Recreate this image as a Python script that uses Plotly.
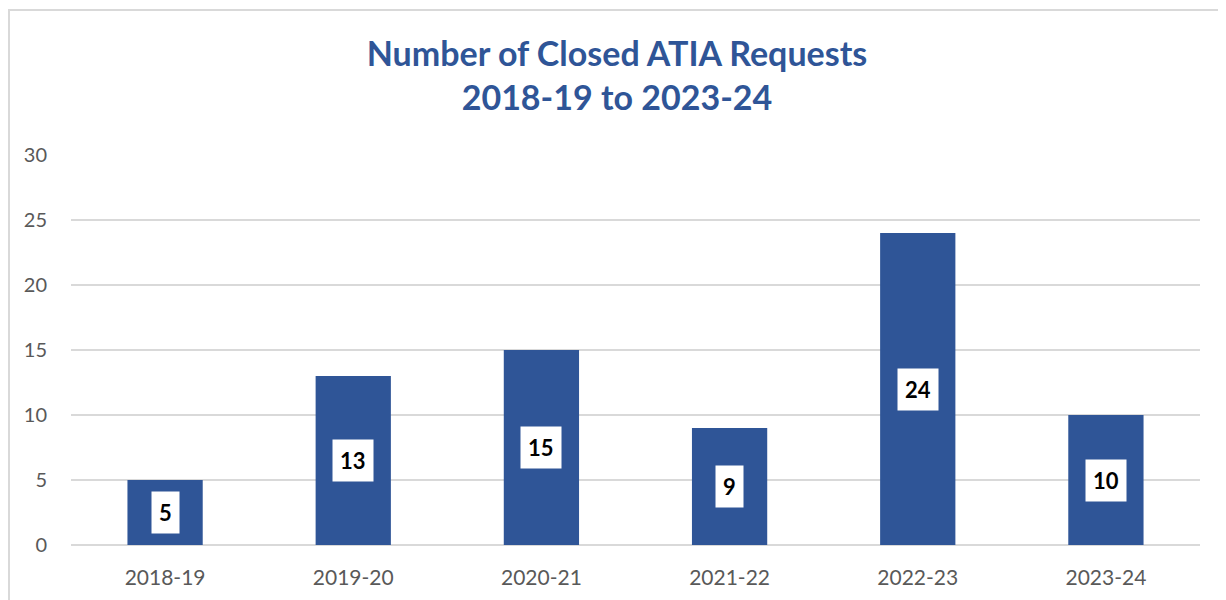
import plotly.graph_objects as go

categories = ["2018-19", "2019-20", "2020-21", "2021-22", "2022-23", "2023-24"]
closed_requests = [5, 13, 15, 9, 24, 10]
title_lines = ["Number of Closed ATIA Requests", "2018-19 to 2023-24"]
y_ticks = [0, 5, 10, 15, 20, 25, 30]

BAR_COLOR = "#2F5597"
FONT = "Lato"

fig = go.Figure()
fig.add_trace(go.Bar(
    x=categories,
    y=closed_requests,
    marker=dict(color=BAR_COLOR, line=dict(width=0)),
    hoverinfo="x+y",
))

for cat, val in zip(categories, closed_requests):
    fig.add_annotation(
        x=cat, y=val / 2, text=f"<b>{val}</b>", showarrow=False,
        font=dict(family=FONT, size=22, color="black"),
        bgcolor="white", borderpad=7,
    )

L, R, T, B = 63, 34, 147, 63
W, H = 1226, 600
pw, ph = W - L - R, H - T - B

fig.update_layout(
    width=W, height=H,
    margin=dict(l=L, r=R, t=T, b=B),
    paper_bgcolor="white", plot_bgcolor="white",
    bargap=0.6,
    showlegend=False,
    title=dict(
        text="<b>" + "<br>".join(title_lines) + "</b>",
        x=609 / W, xanchor="center", y=1 - 58 / H, yanchor="top",
        font=dict(family=FONT, size=34, color=BAR_COLOR),
    ),
    xaxis=dict(
        showgrid=False, showline=False, ticks="",
        tickfont=dict(family=FONT, size=21, color="#595959"),
        ticklabelstandoff=18,
    ),
    yaxis=dict(
        range=[0, 30], tickvals=y_ticks,
        showgrid=True, gridcolor="#D9D9D9", gridwidth=1.5,
        zeroline=True, zerolinecolor="#D9D9D9", zerolinewidth=1.5,
        showline=False, ticks="",
        tickfont=dict(family=FONT, size=20, color="#595959"),
        ticklabelstandoff=23,
    ),
    shapes=[dict(
        type="rect", xref="paper", yref="paper",
        x0=(1 - L) / pw, x1=(W + 20 - L) / pw,
        y0=-(B + 20) / ph, y1=(ph + T - 2) / ph,
        line=dict(color="#D9D9D9", width=2), fillcolor="rgba(0,0,0,0)",
        layer="below",
    )],
)

fig.write_html("out.html")
